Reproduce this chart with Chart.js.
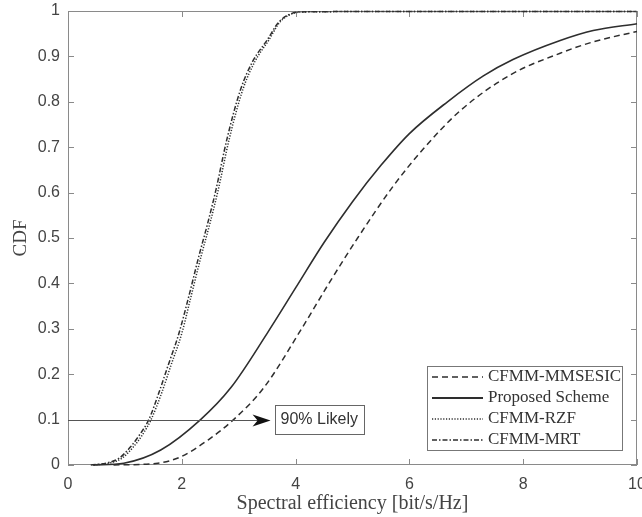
<!DOCTYPE html>
<html lang="en">
<head>
<meta charset="utf-8" />
<title>CDF</title>
<style>
  html, body { margin: 0; padding: 0; background: #fff; }
  #wrap { width: 642px; height: 517px; }
</style>
</head>
<body>
<div id="wrap"><canvas id="cdf" width="642" height="517"></canvas></div>
<script src="https://cdn.jsdelivr.net/npm/chart.js@4.4.1/dist/chart.umd.min.js"></script>
<script>
// valores
const xTicks = [0, 2, 4, 6, 8, 10];
const yTicks = [0, 0.1, 0.2, 0.3, 0.4, 0.5, 0.6, 0.7, 0.8, 0.9, 1];

const sesicX = [0.8, 1.58, 1.98, 2.46, 2.91, 3.44, 4.09, 4.61, 5.09, 5.72, 6.25, 6.89, 7.77, 8.65, 9.23, 10];
const sesicY = [0, 0.004, 0.018, 0.055, 0.1, 0.17, 0.297, 0.405, 0.5, 0.615, 0.697, 0.78, 0.859, 0.907, 0.932, 0.955];

const propX = [0.44, 0.98, 1.63, 2.33, 2.86, 3.5, 4.0, 4.5, 5.0, 5.5, 6.0, 6.67, 7.3, 7.82, 8.65, 9.23, 10];
const propY = [0, 0.004, 0.033, 0.1, 0.17, 0.29, 0.39, 0.49, 0.58, 0.66, 0.73, 0.8, 0.857, 0.893, 0.935, 0.957, 0.972];

const rzfX = [0.45, 0.75, 0.95, 1.15, 1.3, 1.46, 1.65, 1.8, 2.0, 2.16, 2.34, 2.49, 2.64, 2.83, 3.07, 3.29, 3.53, 3.72, 3.92, 4.15, 6, 8, 10];
const rzfY = [0, 0.005, 0.015, 0.04, 0.065, 0.1, 0.16, 0.216, 0.29, 0.37, 0.46, 0.53, 0.606, 0.716, 0.826, 0.89, 0.936, 0.975, 0.993, 0.998, 0.999, 0.999, 0.999];

const mrtX = [0.4, 0.7, 0.9, 1.1, 1.25, 1.42, 1.6, 1.75, 1.95, 2.12, 2.3, 2.45, 2.6, 2.79, 3.03, 3.25, 3.5, 3.7, 3.9, 4.1, 6, 8, 10];
const mrtY = [0, 0.005, 0.015, 0.04, 0.065, 0.1, 0.16, 0.216, 0.29, 0.37, 0.46, 0.53, 0.606, 0.716, 0.826, 0.89, 0.936, 0.975, 0.993, 0.998, 0.999, 0.999, 0.999];

const names = ["CFMM-MMSESIC", "Proposed Scheme", "CFMM-RZF", "CFMM-MRT"];
const dashes = [[6, 4], [], [1.2, 1.6], [5, 2, 1.5, 2]];

// la flecha "90% Likely"
const arrowLevel = 0.1;
const arrowEnd = 3.56;
const arrowText = "90% Likely";

function puntos(xs, ys) {
    return xs.map(function (x, i) { return { x: x, y: ys[i] }; });
}

const series = [puntos(sesicX, sesicY), puntos(propX, propY), puntos(rzfX, rzfY), puntos(mrtX, mrtY)];

const lineColor = "#2e2e2e";
const axisColor = "#8a8a8a";

const marco = {
    id: "marco",
    beforeDatasetsDraw(chart) {
        // caja y ticks hacia dentro
        const ctx = chart.ctx;
        const a = chart.chartArea;
        const xs = chart.scales.x, ys = chart.scales.y;
        ctx.save();
        ctx.strokeStyle = axisColor;
        ctx.lineWidth = 1;
        ctx.strokeRect(a.left + 0.5, a.top + 0.5, a.right - a.left - 1, a.bottom - a.top - 1);
        ctx.beginPath();
        xTicks.forEach(function (t) {
            const px = Math.round(xs.getPixelForValue(t)) + 0.5;
            ctx.moveTo(px, a.bottom); ctx.lineTo(px, a.bottom - 6);
            ctx.moveTo(px, a.top); ctx.lineTo(px, a.top + 6);
        });
        yTicks.forEach(function (t) {
            const py = Math.round(ys.getPixelForValue(t)) + 0.5;
            ctx.moveTo(a.left, py); ctx.lineTo(a.left + 6, py);
            ctx.moveTo(a.right, py); ctx.lineTo(a.right - 6, py);
        });
        ctx.stroke();
        ctx.restore();
    },
    afterDatasetsDraw(chart) {
        const ctx = chart.ctx;
        const a = chart.chartArea;
        const xs = chart.scales.x, ys = chart.scales.y;
        ctx.save();

        // flecha
        const yA = Math.round(ys.getPixelForValue(arrowLevel)) + 0.5;
        const xTip = xs.getPixelForValue(arrowEnd);
        ctx.strokeStyle = "#555";
        ctx.lineWidth = 1.2;
        ctx.beginPath();
        ctx.moveTo(xs.getPixelForValue(0), yA);
        ctx.lineTo(xTip - 8, yA);
        ctx.stroke();
        ctx.fillStyle = "#111";
        ctx.beginPath();
        ctx.moveTo(xTip, yA);
        ctx.lineTo(xTip - 18, yA - 6);
        ctx.lineTo(xTip - 13, yA);
        ctx.lineTo(xTip - 18, yA + 6);
        ctx.closePath();
        ctx.fill();

        ctx.font = "16px 'Liberation Sans', Arial, sans-serif";
        const tw = ctx.measureText(arrowText).width;
        const bx = xTip + 4, bw = tw + 12, bh = 29;
        ctx.fillStyle = "#fff";
        ctx.fillRect(bx, yA - 16, bw, bh);
        ctx.strokeStyle = "#666";
        ctx.lineWidth = 1;
        ctx.strokeRect(Math.round(bx) + 0.5, Math.round(yA - 16) + 0.5, Math.round(bw), bh);
        ctx.fillStyle = "#333";
        ctx.textBaseline = "middle";
        ctx.textAlign = "left";
        ctx.fillText(arrowText, bx + 6, yA - 1);

        // leyenda dentro del area
        const lx = a.right - 210, ly = a.bottom - 99, lw = 195, lh = 84;
        ctx.fillStyle = "#fff";
        ctx.fillRect(lx, ly, lw, lh);
        ctx.strokeStyle = "#777";
        ctx.strokeRect(lx + 0.5, ly + 0.5, lw, lh);
        ctx.font = "17px 'Liberation Serif', 'DejaVu Serif', serif";
        names.forEach(function (n, i) {
            const ry = ly + 11 + i * 21;
            ctx.strokeStyle = lineColor;
            ctx.lineWidth = i === 1 ? 1.8 : 1.6;
            ctx.setLineDash(dashes[i]);
            ctx.beginPath();
            ctx.moveTo(lx + 5, ry);
            ctx.lineTo(lx + 56, ry);
            ctx.stroke();
            ctx.setLineDash([]);
            ctx.fillStyle = "#333";
            ctx.fillText(n, lx + 61, ry);
        });
        ctx.restore();
    }
};

new Chart(document.getElementById("cdf").getContext("2d"), {
    type: "line",
    data: {
        datasets: series.map(function (d, i) {
            return {
                label: names[i],
                data: d,
                borderColor: lineColor,
                borderWidth: i === 1 ? 1.6 : 1.5,
                borderDash: dashes[i],
                pointRadius: 0,
                fill: false,
                clip: 3,
                cubicInterpolationMode: "monotone",
            };
        }),
    },
    options: {
        responsive: false,
        animation: false,
        layout: { padding: { top: 11, right: 5, left: 0, bottom: 0 } },
        plugins: { legend: { display: false }, tooltip: { enabled: false } },
        scales: {
            x: {
                type: "linear",
                min: 0,
                max: 10,
                afterFit: function (s) { s.height = 52; s.paddingLeft = 0; s.paddingRight = 0; },
                afterBuildTicks: function (s) { s.ticks = xTicks.map(function (v) { return { value: v }; }); },
                grid: { display: false, drawTicks: false },
                border: { display: false },
                ticks: { padding: 10, color: "#444", font: { family: "'Liberation Sans', Arial, sans-serif", size: 16 }, maxRotation: 0 },
                title: { display: true, text: "Spectral efficiency [bit/s/Hz]", color: "#444", padding: { top: 0, bottom: 1 }, font: { family: "'Liberation Serif', 'DejaVu Serif', serif", size: 20 } },
            },
            y: {
                min: 0,
                max: 1,
                afterFit: function (s) { s.width = 68; s.paddingTop = 0; s.paddingBottom = 0; },
                afterBuildTicks: function (s) { s.ticks = yTicks.map(function (v) { return { value: v }; }); },
                grid: { display: false, drawTicks: false },
                border: { display: false },
                ticks: {
                    padding: 8,
                    color: "#444",
                    font: { family: "'Liberation Sans', Arial, sans-serif", size: 16 },
                    callback: function (v) { return String(Math.round(v * 10) / 10); },
                },
                title: { display: true, text: "CDF", color: "#444", padding: { top: 10, bottom: 0 }, font: { family: "'Liberation Serif', 'DejaVu Serif', serif", size: 19 } },
            },
        },
    },
    plugins: [marco],
});
</script>
</body>
</html>
